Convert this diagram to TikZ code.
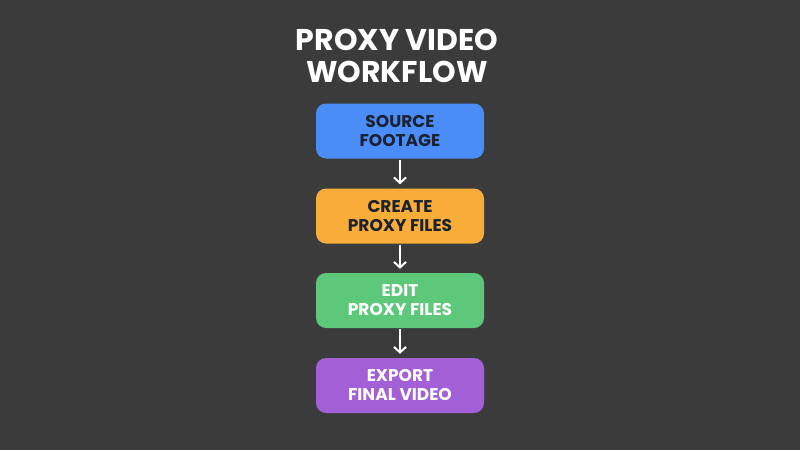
\documentclass[tikz,border=0pt]{standalone}
\usepackage{fontspec}
\setmainfont{Poppins}
\usetikzlibrary{positioning,arrows.meta}
\definecolor{bgdark}{HTML}{3B3B3B}
\definecolor{stepblue}{HTML}{4B8DF7}
\definecolor{steporange}{HTML}{F7AD38}
\definecolor{stepgreen}{HTML}{5DC87A}
\definecolor{steppurple}{HTML}{A35FD6}
\definecolor{darktext}{HTML}{1B2130}
\tikzset{
  stepbox/.style={rounded corners=10pt,minimum width=168pt,minimum height=55pt,
    align=center,font=\fontsize{17}{19}\selectfont\bfseries,inner sep=0pt},
  flowarrow/.style={white,line width=2pt,-{Straight Barb[length=5.5pt,width=12pt,line width=2pt]}}
}
\begin{document}
\begin{tikzpicture}[x=1pt,y=-1pt]
\fill[bgdark](0,0)rectangle(800,450);
\useasboundingbox(0,0)rectangle(800,450);
\node[white,align=center,font=\fontsize{30}{32}\selectfont\bfseries](title)at(397,56){PROXY VIDEO\\WORKFLOW};
\node[stepbox,fill=stepblue,text=darktext](source)at(400,131){SOURCE\\FOOTAGE};
\node[stepbox,fill=steporange,text=darktext](create)at(400,216){CREATE\\PROXY FILES};
\node[stepbox,fill=stepgreen,text=white](edit)at(400,300.5){EDIT\\PROXY FILES};
\node[stepbox,fill=steppurple,text=white](export)at(400,385.5){EXPORT\\FINAL VIDEO};
\draw[flowarrow](source.south)++(0,1)--([yshift=4pt]create.north);
\draw[flowarrow](create.south)++(0,1)--([yshift=4pt]edit.north);
\draw[flowarrow](edit.south)++(0,1)--([yshift=4pt]export.north);
\end{tikzpicture}
\end{document}
